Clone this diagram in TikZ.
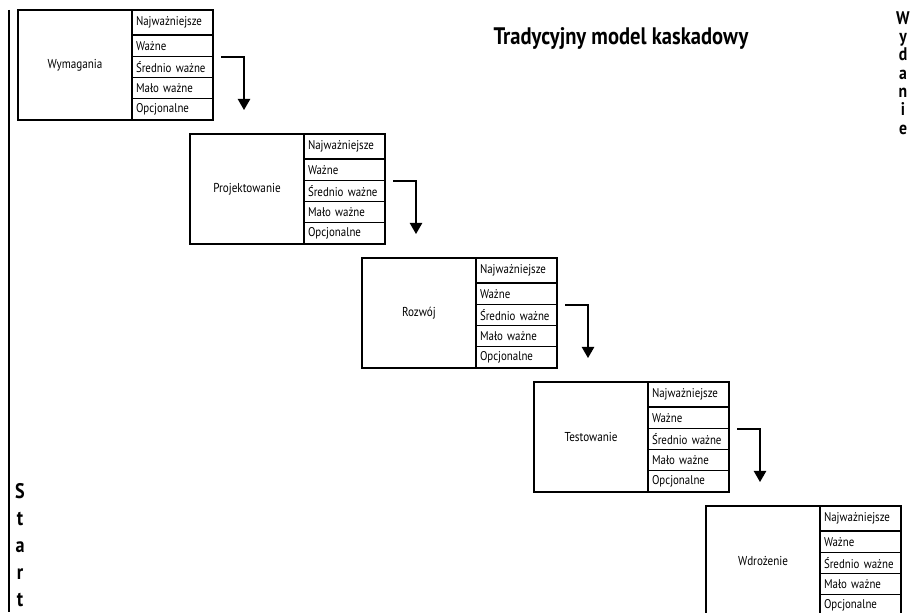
\documentclass[tikz,border=0pt]{standalone}
\usepackage{fontspec}
\setmainfont{PT Sans}[FakeStretch=0.86]
\usetikzlibrary{arrows.meta,positioning}
\tikzset{
  >={Triangle[length=8pt,width=9pt]},
  stagebox/.style={draw,line width=0.9pt,outer sep=0pt,minimum width=28.5mm,minimum height=27.5mm,inner sep=0pt,font=\fontsize{9.2}{10}\selectfont,anchor=north west},
  lvl/.style={draw,line width=0.9pt,outer sep=0pt,text width=18.25mm,inner xsep=1mm,inner ysep=0pt,minimum height=5.3125mm,align=left,font=\fontsize{9}{10}\selectfont},
  toplvl/.style={lvl,minimum height=6.25mm,anchor=north west},
  flow/.style={->,line width=0.8pt},
  vtext/.style={align=center,inner sep=0pt},
}

\begin{document}
\begin{tikzpicture}[x=0.25mm,y=-0.25mm]
  \useasboundingbox (0,0) rectangle (913,612);
  \clip (0,0) rectangle (913,612);
  \draw[line width=1.2pt] (9,10) -- (9,612);
  % etapy z listami priorytetow
  \foreach \s/\lab [count=\i from 0] in {wym/Wymagania,pro/Projektowanie,roz/Rozwój,tes/Testowanie,wdr/Wdrożenie}{
    \node[stagebox] (\s) at (18+172*\i,10+124*\i) {\lab};
    \node[toplvl] (\s1) at (\s.north east) {Najważniejsze};
    \node[lvl,below=0pt of \s1] (\s2) {Ważne};
    \node[lvl,below=0pt of \s2] (\s3) {Średnio ważne};
    \node[lvl,below=0pt of \s3] (\s4) {Mało ważne};
    \node[lvl,below=0pt of \s4] (\s5) {Opcjonalne};
  }
  \foreach \s in {wym,pro,roz,tes}{
    \coordinate (\s-tip) at ([xshift=7.75mm,yshift=2.5mm]\s5.south east);
    \draw[flow] ([xshift=2mm,yshift=-0.2mm]\s3.north east) -| (\s-tip);
  }
  \node[font=\fontsize{17}{20}\selectfont\bfseries] (title) at (621,38) {Tradycyjny model kaskadowy};
  \node[vtext,font=\fontsize{15}{19.2}\selectfont\bfseries] (start) at (20,545) {S\\t\\a\\r\\t};
  \node[vtext,font=\fontsize{13}{13}\selectfont\bfseries] (wyd) at (903,73) {W\\y\\d\\a\\n\\i\\e};
\end{tikzpicture}
\end{document}
